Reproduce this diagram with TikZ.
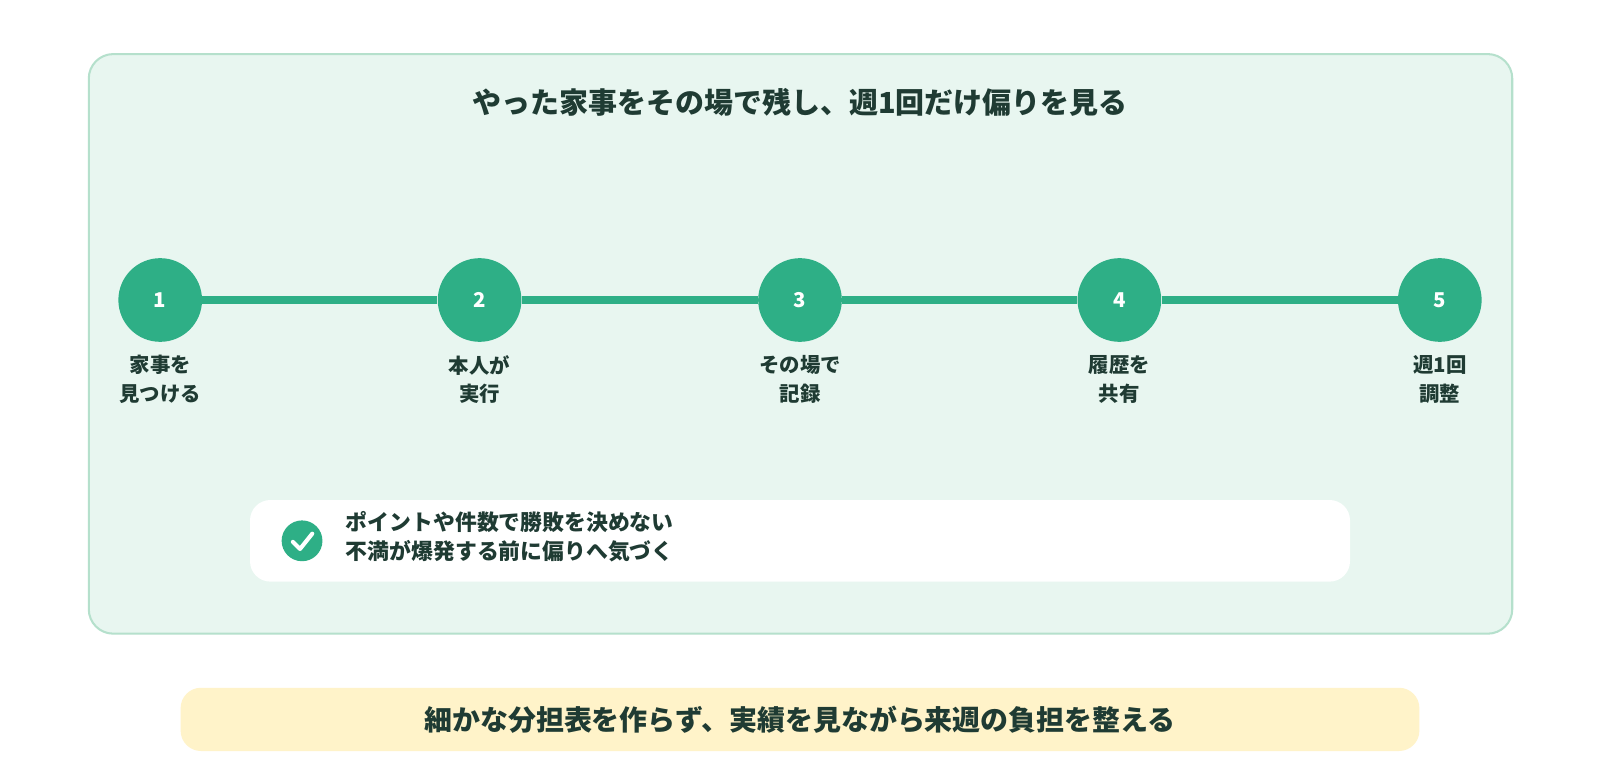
\documentclass[tikz,border=0pt]{standalone}
\usepackage{fontspec}
\setmainfont{Noto Sans CJK JP}
\definecolor{panel}{HTML}{E8F6F0}
\definecolor{panelb}{HTML}{B5E0CC}
\definecolor{grn}{HTML}{2EAF86}
\definecolor{ink}{HTML}{1F3B33}
\definecolor{yel}{HTML}{FFF3C9}
\begin{document}%
\begin{tikzpicture}[x=0.5pt,y=-0.5pt,
  stepnode/.style={circle,fill=grn,minimum size=41pt,inner sep=0,text=white,font=\fontsize{10}{11}\selectfont\bfseries},
  lab/.style={text=ink,align=center,font=\fontsize{10}{14}\selectfont\bfseries},
  txt/.style={text=ink,font=\bfseries}]
\fill[white] (0,0) rectangle (1568,764);
\draw[fill=panel,draw=panelb,line width=1pt,rounded corners=12pt] (87,53) rectangle (1482,621);
\node[txt,font=\fontsize{14.2}{16}\selectfont\bfseries] (title) at (784,100) {やった家事をその場で残し、週1回だけ偏りを見る};
\node[stepnode] (s1) at (157,294) {1};
\node[stepnode] (s2) at (470,294) {2};
\node[stepnode] (s3) at (784,294) {3};
\node[stepnode] (s4) at (1097,294) {4};
\node[stepnode] (s5) at (1411,294) {5};
\foreach \a/\b in {s1/s2,s2/s3,s3/s4,s4/s5}
  \draw[grn,line width=4pt] (\a.east) -- (\b.west);
\node[lab] (l1) at (157,372) {家事を\\見つける};
\node[lab] (l2) at (470,372) {本人が\\実行};
\node[lab] (l3) at (784,372) {その場で\\記録};
\node[lab] (l4) at (1097,372) {履歴を\\共有};
\node[lab] (l5) at (1411,372) {週1回\\調整};
\fill[white,rounded corners=10pt] (245,490) rectangle (1323,570);
\node[circle,fill=grn,minimum size=20pt,inner sep=0] (chk) at (296,530) {};
\draw[white,line width=2pt,line cap=round,line join=round] ([shift={(-9,1)}]chk.center) -- ([shift={(-2,8)}]chk.center) -- ([shift={(10,-7)}]chk.center);
\node[lab,anchor=west,align=left,font=\fontsize{10.7}{14.5}\selectfont\bfseries] (note) at (332,526) {ポイントや件数で勝敗を決めない\\不満が爆発する前に偏りへ気づく};
\fill[yel,rounded corners=10pt] (177,674) rectangle (1391,736);
\node[txt,font=\fontsize{13.7}{15}\selectfont\bfseries] (foot) at (784,705) {細かな分担表を作らず、実績を見ながら来週の負担を整える};
\pgfresetboundingbox
\useasboundingbox (0,0) rectangle (1568,764);
\end{tikzpicture}%
\end{document}
